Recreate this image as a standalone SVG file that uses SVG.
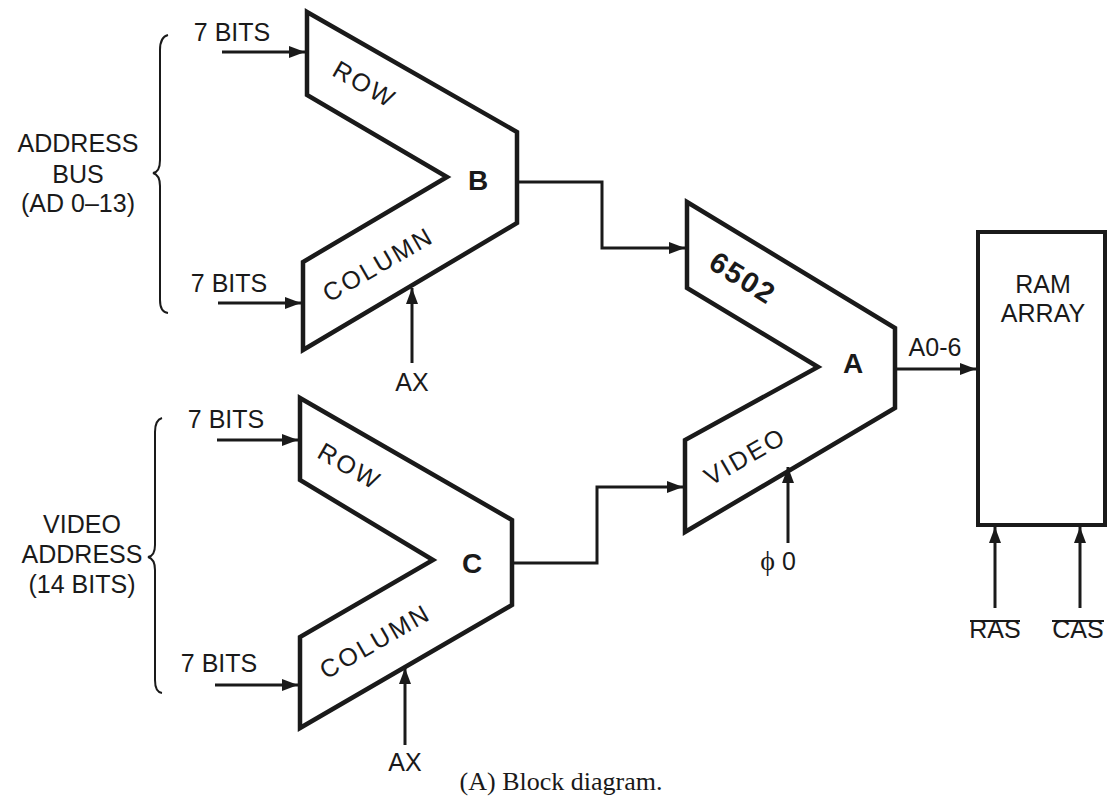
<svg xmlns="http://www.w3.org/2000/svg" width="1109" height="797" viewBox="0 0 1109 797">
<style>
.mux{fill:#fff;stroke:#1a1a1a;stroke-width:4.5;stroke-linejoin:miter}
.w{fill:none;stroke:#1a1a1a;stroke-width:3}
.br{fill:none;stroke:#1a1a1a;stroke-width:2}
text{font-family:"Liberation Sans",Arial,sans-serif;fill:#1a1a1a;text-anchor:middle}
.lb{font-size:25px}
.in{font-size:25px;letter-spacing:2.5px}
.big{font-size:28px;font-weight:bold}
.cap{font-family:"Liberation Serif","Times New Roman",serif;font-size:26px}
</style>
<defs>
<marker id="ah" markerUnits="userSpaceOnUse" markerWidth="18" markerHeight="12" refX="16" refY="6" orient="auto">
<path d="M0,0 L16,6 L0,12 z" fill="#1a1a1a"/>
</marker>
</defs>

<g id="address-bus">
<path class="br" d="M168,35 Q160,37 160,50 L160,160 Q160,172 153,173 Q160,175 160,186 L160,300 Q160,312 168,313"/>
<text class="lb" x="78" y="152">ADDRESS</text>
<text class="lb" x="78" y="183">BUS</text>
<text class="lb" x="78" y="212">(AD 0–13)</text>
</g>

<g id="video-address">
<path class="br" d="M162,418 Q155,420 155,432 L155,545 Q155,556 148,557 Q155,559 155,570 L155,680 Q155,692 162,693"/>
<text class="lb" x="82" y="533">VIDEO</text>
<text class="lb" x="82" y="563">ADDRESS</text>
<text class="lb" x="82" y="593">(14 BITS)</text>
</g>

<g id="mux-b">
<polygon class="mux" points="307,12 517,132 517,223 303,350 303,262 447,177 307,95"/>
<text class="big" x="478" y="190">B</text>
<text class="in" transform="translate(365,84) rotate(30)" y="9">ROW</text>
<text class="in" transform="translate(378,264) rotate(-30)" y="9">COLUMN</text>
</g>

<g id="mux-c">
<polygon class="mux" points="300,398 512,520 512,605 300,728 300,637 433,560 300,480"/>
<text class="big" x="472" y="573">C</text>
<text class="in" transform="translate(350,466) rotate(30)" y="9">ROW</text>
<text class="in" transform="translate(375,641) rotate(-30)" y="9">COLUMN</text>
</g>

<g id="mux-a">
<polygon class="mux" points="687,202 895,328 895,408 685,532 685,440 818,367 687,288"/>
<text class="big" x="853" y="373">A</text>
<text class="big" style="font-size:29px;letter-spacing:2px" transform="translate(743,278) rotate(32)" y="10">6502</text>
<text class="in" transform="translate(745,456) rotate(-30)" y="9">VIDEO</text>
</g>

<g id="ram-array">
<rect x="978" y="232" width="127" height="293" fill="#fff" stroke="#1a1a1a" stroke-width="4"/>
<text class="lb" x="1043" y="293">RAM</text>
<text class="lb" x="1043" y="322">ARRAY</text>
</g>

<g id="connectors">
<line class="w" x1="222" y1="52" x2="305" y2="52" marker-end="url(#ah)"/>
<line class="w" x1="218" y1="303" x2="301" y2="303" marker-end="url(#ah)"/>
<line class="w" x1="412" y1="363" x2="412" y2="288" marker-end="url(#ah)"/>
<line class="w" x1="217" y1="440" x2="298" y2="440" marker-end="url(#ah)"/>
<line class="w" x1="215" y1="685" x2="298" y2="685" marker-end="url(#ah)"/>
<line class="w" x1="405" y1="745" x2="405" y2="668" marker-end="url(#ah)"/>
<polyline class="w" points="519,182 602,182 602,248 685,248" marker-end="url(#ah)"/>
<polyline class="w" points="514,563 597,563 597,487 683,487" marker-end="url(#ah)"/>
<line class="w" x1="788" y1="543" x2="788" y2="467" marker-end="url(#ah)"/>
<line class="w" x1="897" y1="369" x2="976" y2="369" marker-end="url(#ah)"/>
<line class="w" x1="995" y1="608" x2="995" y2="527" marker-end="url(#ah)"/>
<line class="w" x1="1080" y1="608" x2="1080" y2="527" marker-end="url(#ah)"/>
</g>

<g id="labels">
<text class="lb" x="232" y="41">7 BITS</text>
<text class="lb" x="229" y="292">7 BITS</text>
<text class="lb" x="226" y="428">7 BITS</text>
<text class="lb" x="219" y="672">7 BITS</text>
<text class="lb" x="412" y="391">AX</text>
<text class="lb" x="405" y="771">AX</text>
<text class="lb" x="778" y="570"><tspan font-family="'Liberation Serif',serif" font-size="28px">ϕ</tspan> 0</text>
<text class="lb" x="935" y="356">A0-6</text>
<text class="lb" x="995" y="638">RAS</text>
<text class="lb" x="1078" y="638">CAS</text>
<line x1="970" y1="621" x2="1020" y2="621" stroke="#1a1a1a" stroke-width="2"/>
<line x1="1052" y1="621" x2="1104" y2="621" stroke="#1a1a1a" stroke-width="2"/>
<text class="cap" x="561" y="790">(A)  Block diagram.</text>
</g>
</svg>
